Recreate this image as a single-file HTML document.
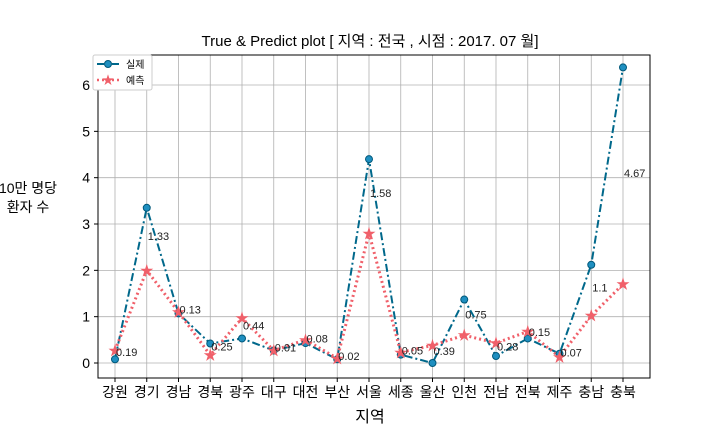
<!DOCTYPE html>
<html><head><meta charset="utf-8"><style>
body{margin:0;background:#fff;}
svg{font-family:"Liberation Sans","Noto Sans CJK KR",sans-serif;}
</style></head><body>
<svg id="chart" width="720" height="432" viewBox="0 0 720 432">
<rect width="720" height="432" fill="#fff"/>
<text x="370" y="46" text-anchor="middle" font-size="15" fill="#000">True &amp; Predict plot  [ 지역 : 전국 , 시점 : 2017. 07 월]</text>
<g id="grid"></g>
<g id="series"></g>
<rect x="98" y="55" width="552" height="323" fill="none" stroke="#000" stroke-width="1"/>
<text x="370" y="422" text-anchor="middle" font-size="16">지역</text>
<text x="28" y="193" text-anchor="middle" font-size="14"><tspan x="28">10만 명당</tspan><tspan x="28" dy="19">환자 수</tspan></text>
<g>
<rect x="93" y="55" width="59" height="35" rx="2" fill="#fff" stroke="#ccc"/>
<g>
<line x1="97" y1="64" x2="120" y2="64" stroke="#00688B" stroke-width="2" stroke-dasharray="7,3,2,3"/>
<circle cx="108" cy="64" r="3.5" fill="#1f8fc0" stroke="#00587a"/>
<text x="126" y="68" font-size="10">실제</text></g>
<g>
<line x1="97" y1="80" x2="120" y2="80" stroke="#f0606a" stroke-width="2.5" stroke-dasharray="2,3"/>
<text x="108" y="84" font-size="12" fill="#f0606a" text-anchor="middle">★</text>
<text x="126" y="84" font-size="10">예측</text></g>
</g>
</svg>
<script>
const categories=["강원","경기","경남","경북","광주","대구","대전","부산","서울","세종","울산","인천","전남","전북","제주","충남","충북"];
const trueVals=[0.08,3.35,1.07,0.42,0.53,0.27,0.43,0.08,4.4,0.18,0.0,1.37,0.15,0.53,0.2,2.12,6.38];
const predVals=[0.27,2.0,1.1,0.17,0.97,0.27,0.5,0.1,2.8,0.23,0.38,0.6,0.43,0.68,0.13,1.02,1.7];
const diffLabels=["0.19","1.33","0.13","0.25","0.44","0.01","0.08","0.02","1.58","0.05","0.39","0.75","0.28","0.15","0.07","1.1","4.67"];
const yTicks=[0,1,2,3,4,5,6];
const NS="http://www.w3.org/2000/svg";
const xs=i=>115+i*31.75;
const ys=v=>363-v*46.33;
function mk(t,a,p){const e=document.createElementNS(NS,t);for(const k in a)e.setAttribute(k,a[k]);p.appendChild(e);return e;}
const grid=document.getElementById('grid'),ser=document.getElementById('series');
yTicks.forEach(v=>{
 const l=mk('line',{x1:98,x2:650,y1:ys(v),y2:ys(v),stroke:'#b0b0b0','stroke-width':0.8},grid);
 
 
 mk('line',{x1:94,x2:98,y1:ys(v),y2:ys(v),stroke:'#000'},grid);
 const t=mk('text',{x:90,y:ys(v)+5,'text-anchor':'end','font-size':14},grid);t.textContent=v;
 
 
});
categories.forEach((c,i)=>{
 const l=mk('line',{x1:xs(i),x2:xs(i),y1:55,y2:378,stroke:'#b0b0b0','stroke-width':0.8},grid);
 
 
 mk('line',{x1:xs(i),x2:xs(i),y1:378,y2:382,stroke:'#000'},grid);
 const t=mk('text',{x:xs(i),y:397,'text-anchor':'middle','font-size':14},grid);t.textContent=c;
 
 
});
const tp=mk('polyline',{points:trueVals.map((v,i)=>xs(i)+','+ys(v)).join(' '),fill:'none',stroke:'#00688B','stroke-width':2,'stroke-dasharray':'8,3,2,3'},ser);


const pp=mk('polyline',{points:predVals.map((v,i)=>xs(i)+','+ys(v)).join(' '),fill:'none',stroke:'#f0606a','stroke-width':3,'stroke-dasharray':'2,3'},ser);


trueVals.forEach((v,i)=>{
 const c=mk('circle',{cx:xs(i),cy:ys(v),r:3.5,fill:'#1f8fc0',stroke:'#00587a'},ser);
 
 
});
predVals.forEach((v,i)=>{
 const s=mk('text',{x:xs(i),y:ys(v)+5,'text-anchor':'middle','font-size':14,fill:'#f0606a'},ser);s.textContent='★';
 
 
});
diffLabels.forEach((d,i)=>{
 const m=(trueVals[i]+predVals[i])/2;
 const t=mk('text',{x:xs(i)+1,y:ys(m)+1,'font-size':11,fill:'#222'},ser);t.textContent=d;
 
 
});
</script>
</body></html>
